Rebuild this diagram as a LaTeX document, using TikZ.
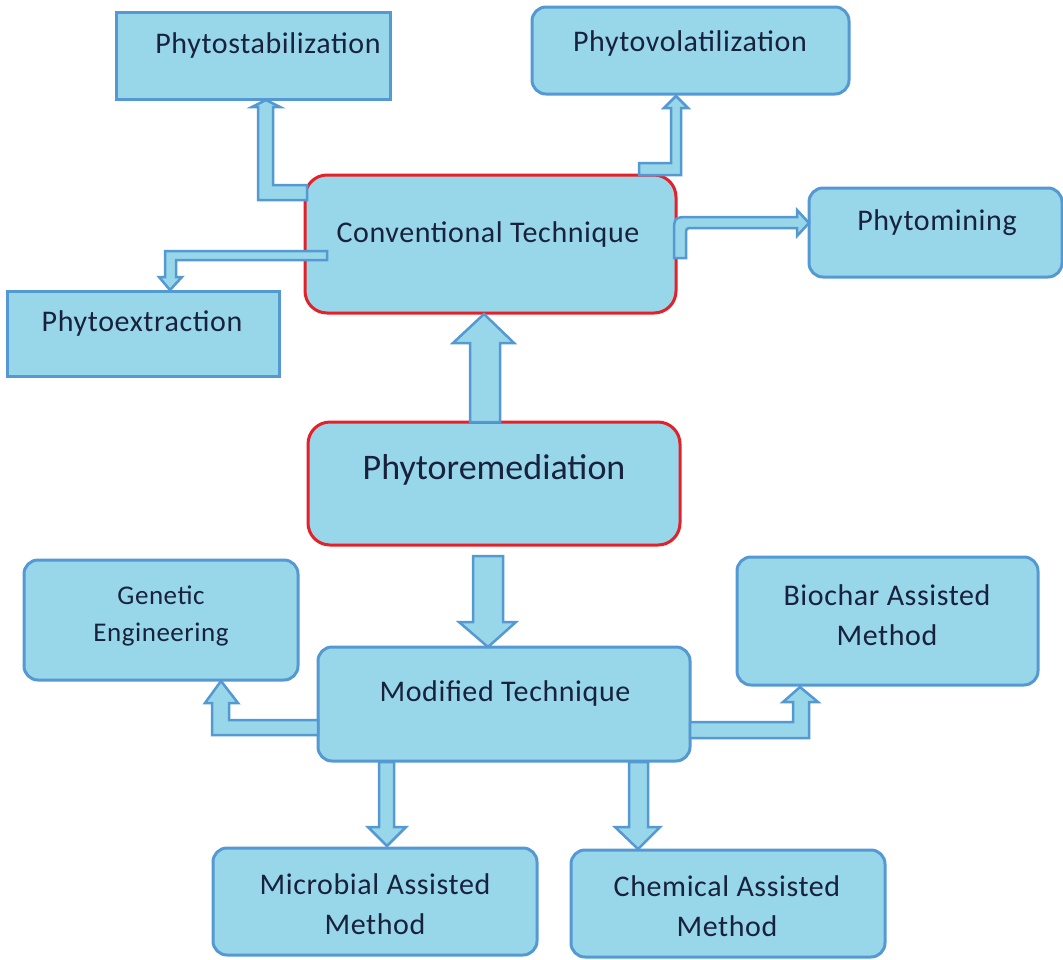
\documentclass[tikz,border=0pt]{standalone}
\usepackage{fontspec}
\setmainfont{Carlito}[LetterSpace=2]
\definecolor{boxfill}{RGB}{152,214,234}
\definecolor{boxline}{RGB}{84,153,210}
\definecolor{redline}{RGB}{228,32,40}
\definecolor{ink}{RGB}{24,34,60}
\tikzset{
  box/.style={draw=boxline, fill=boxfill, line width=3pt, inner sep=0pt},
  roundbox/.style={box, rounded corners=14pt},
  redbox/.style={box, draw=redline, rounded corners=22pt},
  lbl/.style={text=ink, font=\fontsize{30}{40}\selectfont, align=center, inner sep=0pt},
  biglbl/.style={text=ink, font=\fontsize{36}{42}\selectfont\addfontfeatures{LetterSpace=0}, inner sep=0pt},
  smalllbl/.style={text=ink, font=\fontsize{27}{37}\selectfont, align=center, inner sep=0pt},
  blockarrow/.style={draw=boxline, fill=boxfill, line width=2.5pt, line join=miter}
}
\begin{document}
\begin{tikzpicture}[x=1pt, y=-1pt]
\useasboundingbox (0,0) rectangle (1063,959);

% boxes
\node[box, minimum width=274pt, minimum height=87pt] (stab) at (253,55.5) {};
\node[roundbox, minimum width=317pt, minimum height=87pt] (vol) at (690.5,50.5) {};
\node[box, minimum width=272pt, minimum height=85pt] (ext) at (143,333.5) {};
\node[roundbox, minimum width=253pt, minimum height=89pt] (mine) at (935.5,232.5) {};
\node[redbox, minimum width=371pt, minimum height=138pt] (conv) at (490.5,244) {};
\node[redbox, minimum width=372pt, minimum height=123pt] (phyto) at (494,483.5) {};
\node[roundbox, minimum width=274pt, minimum height=120pt] (gen) at (161,620) {};
\node[roundbox, minimum width=372pt, minimum height=114pt] (mod) at (504,704) {};
\node[roundbox, minimum width=301pt, minimum height=128pt] (bio) at (887.5,621) {};
\node[roundbox, minimum width=324pt, minimum height=107pt] (mic) at (375,901.5) {};
\node[roundbox, minimum width=314pt, minimum height=107pt] (chem) at (728,903.5) {};

% labels
\node[lbl] (stab-t) at (268,45) {Phytostabilization};
\node[lbl] (vol-t) at (690,43) {Phytovolatilization};
\node[lbl] (ext-t) at (142,323) {Phytoextraction};
\node[lbl] (mine-t) at (937,223) {Phytomining};
\node[lbl] (conv-t) at (488,234) {Conventional Technique};
\node[biglbl] (phyto-t) at (494,470) {Phytoremediation};
\node[smalllbl] (gen-t) at (161,616) {Genetic\\Engineering};
\node[lbl] (mod-t) at (505,693) {Modified Technique};
\node[lbl] (bio-t) at (887,615) {Biochar Assisted\\Method};
\node[lbl] (mic-t) at (375,904) {Microbial Assisted\\Method};
\node[lbl] (chem-t) at (727,906) {Chemical Assisted\\Method};

% block arrows
% phytoremediation up to conventional technique
\draw[blockarrow] (470,422) -- (470,343) -- (453,343) -- (484,314) -- (514,343) -- (500,343) -- (500,422) -- cycle;
% phytoremediation down to modified technique
\draw[blockarrow] (473,556) -- (503,556) -- (503,622) -- (516,622) -- (488,647) -- (459,622) -- (473,622) -- cycle;
% conventional technique to phytostabilization
\draw[blockarrow] (307,185) -- (273,185) -- (273,107) -- (280,107) -- (266,100) -- (252,107) -- (258,107) -- (258,200) -- (307,200) -- cycle;
% conventional technique to phytovolatilization
\draw[blockarrow] (639,175) -- (681,175) -- (681,108) -- (688,108) -- (676,96) -- (664,108) -- (671,108) -- (671,163) -- (639,163) -- cycle;
% conventional technique to phytomining
\draw[blockarrow] (674,258) -- (674,234) .. controls (674,217) .. (691,217) -- (797,217) -- (797,210) -- (809,223) -- (797,236) -- (797,228) -- (693,228) .. controls (686,228) .. (686,235) -- (686,258) -- cycle;
% conventional technique to phytoextraction
\draw[blockarrow] (327,251) -- (165,251) -- (165,277) -- (159,277) -- (170,290) -- (182,277) -- (176,277) -- (176,260) -- (327,260) -- cycle;
% modified technique to genetic engineering
\draw[blockarrow] (318,720) -- (229,720) -- (229,703) -- (238,703) -- (221,681) -- (205,703) -- (212,703) -- (212,735) -- (318,735) -- cycle;
% modified technique to biochar assisted method
\draw[blockarrow] (690,722) -- (793,722) -- (793,702) -- (783,702) -- (800,687) -- (818,702) -- (809,702) -- (809,738) -- (690,738) -- cycle;
% modified technique to microbial assisted method
\draw[blockarrow] (379,762) -- (394,762) -- (394,827) -- (406,827) -- (387,846) -- (368,827) -- (379,827) -- cycle;
% modified technique to chemical assisted method
\draw[blockarrow] (629,762) -- (648,762) -- (648,827) -- (660,827) -- (638,849) -- (615,827) -- (629,827) -- cycle;
\end{tikzpicture}
\end{document}
